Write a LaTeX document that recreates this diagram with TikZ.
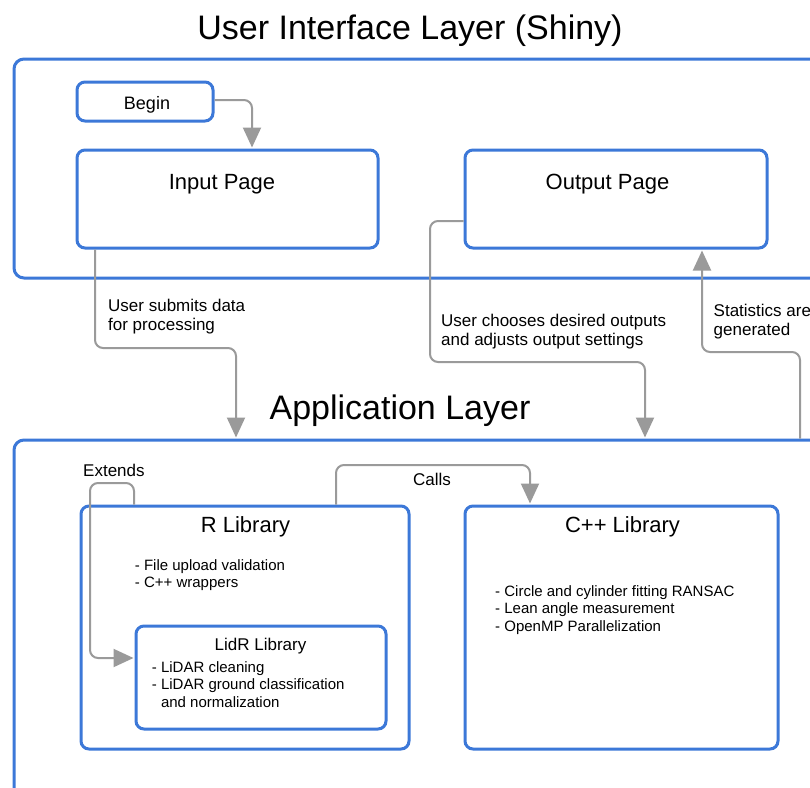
\documentclass[tikz,border=0pt]{standalone}
\usepackage{fontspec}
\setmainfont{Liberation Sans}
\usetikzlibrary{arrows.meta}
\definecolor{bblue}{HTML}{3C78D8}
\definecolor{cgray}{HTML}{9A9A9A}
\begin{document}
\begin{tikzpicture}[x=1pt,y=-1pt,
  box/.style={draw=bblue, line width=3pt, rounded corners=8pt, inner sep=0pt},
  layer/.style={draw=bblue, line width=3pt, rounded corners=10pt, inner sep=0pt},
  conn/.style={draw=cgray, line width=2pt, rounded corners=8pt, shorten >=1pt, -{Triangle[length=20pt,width=18pt]}},
  title/.style={font=\fontsize{34}{40}\selectfont, anchor=base, inner sep=0pt},
  head/.style={font=\fontsize{22}{26}\selectfont, anchor=base, inner sep=0pt},
  lbl/.style={font=\fontsize{17}{19}\selectfont, anchor=base west, align=left, inner sep=0pt},
  item/.style={font=\fontsize{15}{17.6}\selectfont, anchor=base west, align=left, inner sep=0pt},
]
\useasboundingbox (0,0) rectangle (810,787);
\fill[white] (0,0) rectangle (810,787);
\clip (0,0) rectangle (810,787);

% layers
\node[layer, minimum width=816pt, minimum height=219pt] (uilayer) at (422,168.5) {};
\node[layer, minimum width=816pt, minimum height=360pt] (applayer) at (422,620) {};

% boxes
\node[box, minimum width=136pt, minimum height=39pt] (begin) at (145,101.5) {};
\node[box, minimum width=301pt, minimum height=98pt] (input) at (227.5,199) {};
\node[box, minimum width=302pt, minimum height=98pt] (output) at (616,199) {};
\node[box, minimum width=328pt, minimum height=243pt] (rlib) at (245,627.5) {};
\node[box, minimum width=250pt, minimum height=103pt] (lidr) at (261,677.5) {};
\node[box, minimum width=313pt, minimum height=243pt] (cpp) at (621.5,627.5) {};

% titles
\node[title] (t1) at (410,39) {User Interface Layer (Shiny)};
\node[title] (t2) at (400,419) {Application Layer};
\node[head, font=\fontsize{18}{22}\selectfont] (tbegin) at (147,109) {Begin};
\node[head] (tinput) at (222,189) {Input Page};
\node[head] (toutput) at (607.5,189) {Output Page};
\node[head] (trlib) at (245.5,532) {R Library};
\node[head] (tcpp) at (622.5,532) {C++ Library};
\node[head, font=\fontsize{17}{20}\selectfont] (tlidr) at (260.5,650) {LidR Library};

% items (anchor = baseline of last line)
\node[item] (ritems) at (134.7,587.6) {- File upload validation\\- C++ wrappers};
\node[item] (ditems) at (151.7,707.5) {- LiDAR cleaning\\- LiDAR ground classification\\\phantom{- }and normalization};
\node[item] (citems) at (495,631.2) {- Circle and cylinder fitting RANSAC\\- Lean angle measurement\\- OpenMP Parallelization};

% connector labels (anchor = baseline of last line)
\node[lbl] (l1) at (108,330) {User submits data\\for processing};
\node[lbl] (l2) at (441,345) {User chooses desired outputs\\and adjusts output settings};
\node[lbl] (l3) at (713.5,335.5) {Statistics are\\generated};
\node[lbl] (l4) at (83,476) {Extends};
\node[lbl] (l5) at (413,485) {Calls};

% bend points
\coordinate (b1) at (252,100);
\coordinate (b2) at (95,348);
\coordinate (b3) at (236,348);
\coordinate (b4) at (430,221);
\coordinate (b5) at (430,362);
\coordinate (b6) at (645,362);
\coordinate (b7) at (800,352);
\coordinate (b8) at (702,352);
\coordinate (b9) at (134,483);
\coordinate (b10) at (90,483);
\coordinate (b11) at (90,658);
\coordinate (b12) at (336,465);
\coordinate (b13) at (530,465);

% connectors
\draw[conn] (begin.east |- b1) -| (input.north -| b1);
\draw[conn] (input.south -| b2) -- (b2) -- (b3) -- (applayer.north -| b3);
\draw[conn] (output.west |- b4) -- (b4) -- (b5) -- (b6) -- (applayer.north -| b6);
\draw[conn] (applayer.north -| b7) -- (b7) -- (b8) -- (output.south -| b8);
\draw[conn] (rlib.north -| b9) -- (b9) -- (b10) -- (b11) -- (lidr.west |- b11);
\draw[conn] (rlib.north -| b12) -- (b12) -- (b13) -- (cpp.north -| b13);
\end{tikzpicture}
\end{document}
